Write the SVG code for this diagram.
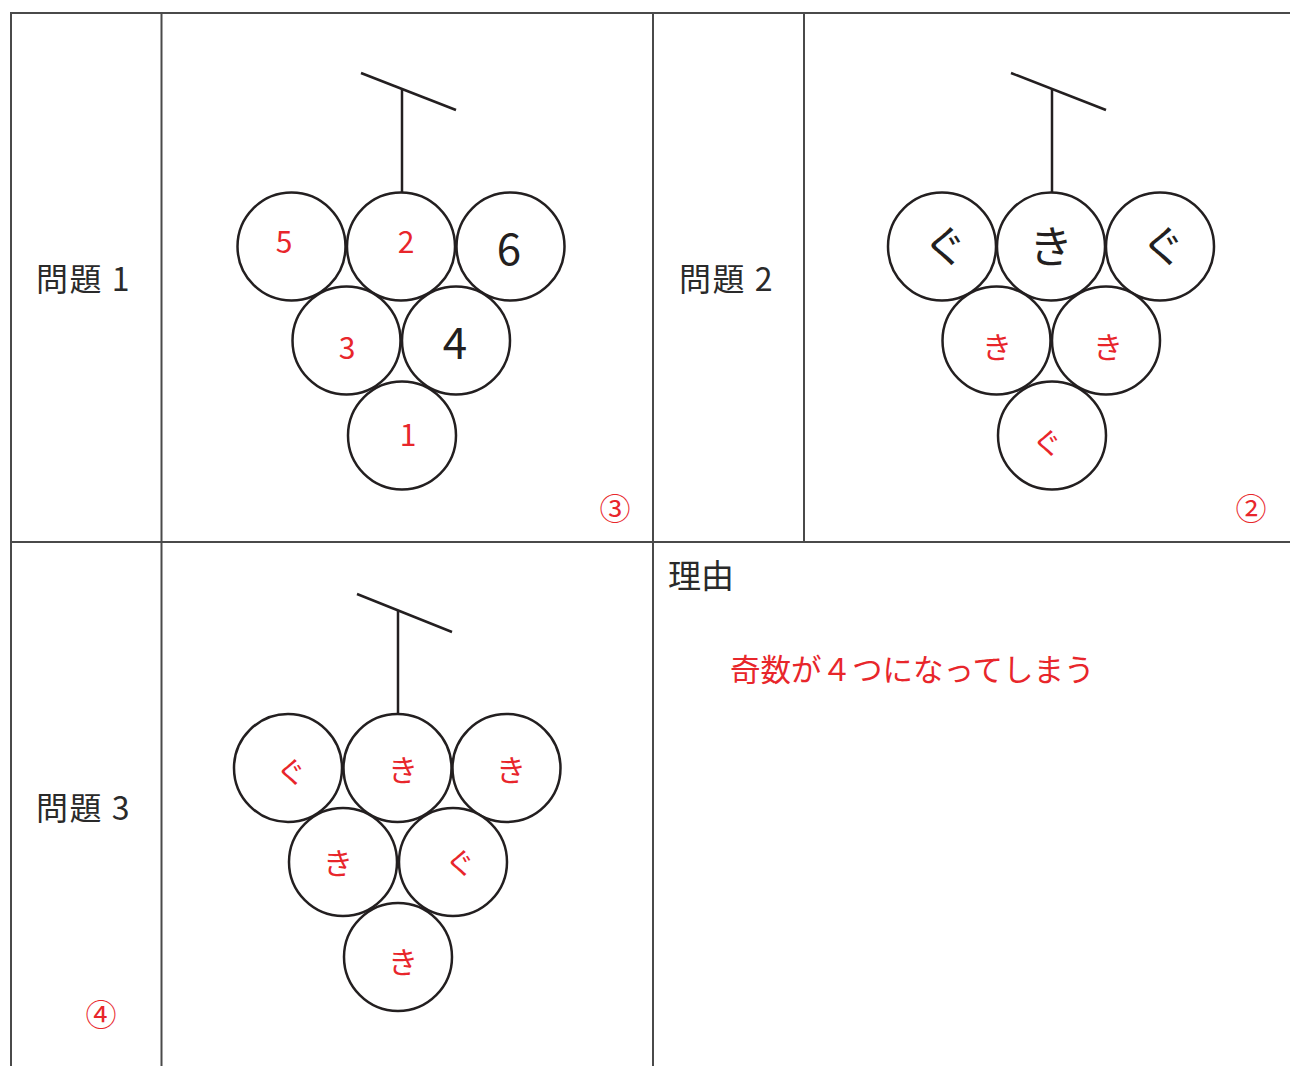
<svg xmlns="http://www.w3.org/2000/svg" width="1290" height="1066" viewBox="0 0 1290 1066">
<style>
.grid{stroke:#4a4a4a;stroke-width:2;fill:none}
.b{fill:#fff;stroke:#231f20;stroke-width:2.5}
.st{stroke:#231f20;stroke-width:2.5;fill:none}
text{font-family:"Noto Sans CJK JP","Noto Sans",sans-serif}
.lab{font-size:32px;fill:#2a2a2a;letter-spacing:1.5px}
.r{fill:#e8262b;text-anchor:middle}
.k{fill:#231f20;text-anchor:middle}
.rs{font-size:30px}
.kl{font-size:44px}
.circ{font-size:31px;fill:#e8262b;text-anchor:middle}
</style>
<rect width="1290" height="1066" fill="#fff"/>
<g id="table" class="grid">
<line x1="10" y1="13" x2="1290" y2="13"/>
<line x1="10" y1="542" x2="1290" y2="542"/>
<line x1="11" y1="13" x2="11" y2="1066"/>
<line x1="161.5" y1="13" x2="161.5" y2="1066"/>
<line x1="653" y1="13" x2="653" y2="1066"/>
<line x1="804" y1="13" x2="804" y2="542"/>
</g>
<g id="labels">
<text class="lab" x="36" y="291">問題 1</text>
<text class="lab" x="679" y="291">問題 2</text>
<text class="lab" x="36" y="820">問題 3</text>
<text x="668" y="588" style="font-size:33px;fill:#2a2a2a">理由</text>
<text x="730" y="681" style="font-size:30.5px;fill:#e8262b">奇数が４つになってしまう</text>
<text class="circ" x="615" y="520">③</text>
<text class="circ" x="1251" y="520">②</text>
<text class="circ" x="101" y="1026">④</text>
</g>
<g id="grape1">
<g class="st"><line x1="361" y1="73" x2="456" y2="110"/><line x1="402" y1="89" x2="402" y2="192"/></g>
<circle class="b" cx="291.5" cy="246.5" r="54"/>
<circle class="b" cx="401" cy="246.5" r="54"/>
<circle class="b" cx="510.5" cy="246.5" r="54"/>
<circle class="b" cx="346.5" cy="340.5" r="54"/>
<circle class="b" cx="456" cy="340.5" r="54"/>
<circle class="b" cx="402" cy="435.5" r="54"/>
<text class="r rs" x="284" y="253">5</text>
<text class="r rs" x="406" y="253">2</text>
<text class="k kl" x="509" y="265">6</text>
<text class="r rs" x="347" y="359">3</text>
<text class="k kl" x="455" y="359">4</text>
<text class="r rs" x="408" y="446">1</text>
</g>
<g id="grape2">
<g class="st"><line x1="1011" y1="73" x2="1106" y2="110"/><line x1="1052" y1="89" x2="1052" y2="192"/></g>
<circle class="b" cx="942" cy="246.5" r="54"/>
<circle class="b" cx="1051" cy="246.5" r="54"/>
<circle class="b" cx="1160" cy="246.5" r="54"/>
<circle class="b" cx="996.5" cy="340.5" r="54"/>
<circle class="b" cx="1106" cy="340.5" r="54"/>
<circle class="b" cx="1052" cy="435.5" r="54"/>
<text class="k kl" x="945" y="263">ぐ</text>
<text class="k kl" x="1051" y="263">き</text>
<text class="k kl" x="1163" y="263">ぐ</text>
<text class="r rs" x="997" y="358">き</text>
<text class="r rs" x="1108" y="358">き</text>
<text class="r rs" x="1047" y="454">ぐ</text>
</g>
<g id="grape3">
<g class="st"><line x1="357" y1="594" x2="452" y2="632"/><line x1="398" y1="610" x2="398" y2="713"/></g>
<circle class="b" cx="288" cy="768" r="54"/>
<circle class="b" cx="397.5" cy="768" r="54"/>
<circle class="b" cx="506.5" cy="768" r="54"/>
<circle class="b" cx="343" cy="862" r="54"/>
<circle class="b" cx="453" cy="862" r="54"/>
<circle class="b" cx="398" cy="957" r="54"/>
<text class="r rs" x="291" y="783">ぐ</text>
<text class="r rs" x="403" y="781">き</text>
<text class="r rs" x="511" y="781">き</text>
<text class="r rs" x="338" y="874">き</text>
<text class="r rs" x="460" y="874">ぐ</text>
<text class="r rs" x="403" y="973">き</text>
</g>
</svg>
